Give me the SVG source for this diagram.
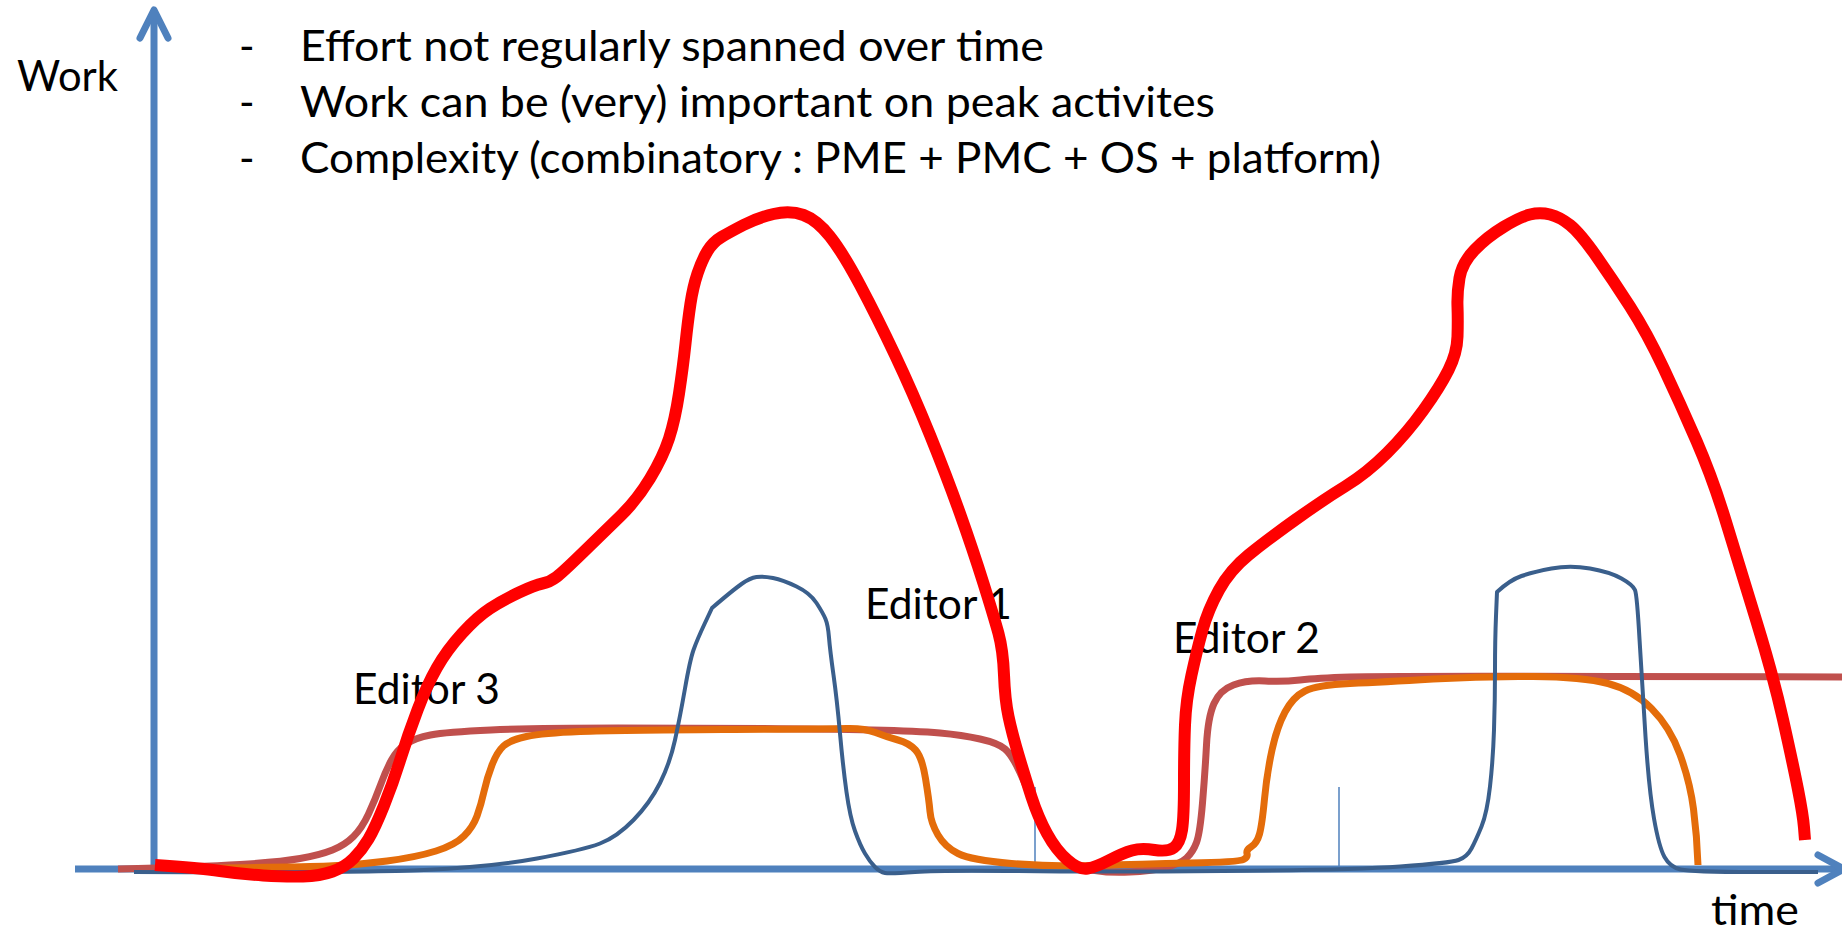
<svg xmlns="http://www.w3.org/2000/svg" width="1842" height="932" viewBox="0 0 1842 932">
<style>
.txt{font-family:Lato,"Liberation Sans",sans-serif;font-size:42px;fill:#000}
.axis{stroke:#4F81BD;stroke-width:7;fill:none;stroke-linecap:round;stroke-linejoin:round}
.tick{stroke:#4F81BD;stroke-width:1.5}
.curve{fill:none;stroke-linejoin:round}
</style>
<rect width="1842" height="932" fill="#fff"/>
<g id="axes">
<line class="axis" x1="154" y1="869" x2="154" y2="10" style="stroke-linecap:butt"/>
<polyline class="axis" points="140,38 154,10 168,38"/>
<line class="axis" x1="75" y1="869" x2="1843" y2="869" style="stroke-linecap:butt"/>
<polyline class="axis" points="1818,855 1844,869 1818,883"/>
<line class="tick" x1="1035" y1="787" x2="1035" y2="869"/>
<line class="tick" x1="1339" y1="787" x2="1339" y2="869"/>
</g>
<g id="labels">
<text class="txt" x="17" y="91" textLength="101" lengthAdjust="spacingAndGlyphs">Work</text>
<text class="txt" x="239" y="61">-</text>
<text class="txt" x="239" y="117">-</text>
<text class="txt" x="239" y="173">-</text>
<text class="txt" x="300" y="61" textLength="744" lengthAdjust="spacingAndGlyphs">Effort not regularly spanned over time</text>
<text class="txt" x="300" y="117" textLength="915" lengthAdjust="spacingAndGlyphs">Work can be (very) important on peak activites</text>
<text class="txt" x="300" y="173" textLength="1081" lengthAdjust="spacingAndGlyphs">Complexity (combinatory : PME + PMC + OS + platform)</text>
<text class="txt" x="1711" y="925" textLength="88" lengthAdjust="spacingAndGlyphs">time</text>
</g>
<g id="editor3"><text class="txt" x="353" y="704" textLength="147" lengthAdjust="spacingAndGlyphs">Editor 3</text></g>
<g id="editor1"><text class="txt" x="865" y="619" textLength="147" lengthAdjust="spacingAndGlyphs">Editor 1</text></g>
<g id="editor2"><text class="txt" x="1173" y="653" textLength="147" lengthAdjust="spacingAndGlyphs">Editor 2</text></g>
<g id="curves">
<path id="brown" class="curve" stroke="#C0504D" stroke-width="7" d="M118,869 Q200,867 240,864.5 Q280,862 300,858.5 Q320,855 332.5,850 Q345,845 353.5,836.5 Q362,828 368.5,814 Q375,800 380.5,785 Q386,770 391.5,760 Q397,750 406,744 Q415,738 430.5,735 Q446,732 491,730 Q536,728 618,728 Q700,728 763.5,728.5 Q827,729 872.5,730 Q918,731 940,733 Q962,735 980,739 Q998,743 1005,749 Q1012,755 1020,772.5 Q1028,790 1035,807.5 Q1042,825 1050,838.5 Q1058,852 1069,860 Q1080,868 1095,870.5 Q1110,873 1130,872 Q1150,871 1165,867.5 Q1180,864 1186.5,858 Q1193,852 1196.5,842.5 Q1200,833 1202.5,803 Q1205,773 1206.5,745 Q1208,717 1214,703.5 Q1220,690 1233.5,685 Q1247,680 1265,681 Q1283,682 1300,680 Q1317,678 1350,677 Q1383,676 1612.5,676.5 L1842,677"/>
<path id="orange" class="curve" stroke="#E46C0A" stroke-width="7" d="M160,869 Q300,867 328.5,866 Q357,865 387,861 Q417,857 436,851 Q455,845 464,836 Q473,827 477,816 Q481,805 484,791.5 Q487,778 492,765 Q497,752 503.5,746 Q510,740 526.5,736.5 Q543,733 580,731.5 Q617,730 723,729.5 Q829,729 846.5,728.5 Q864,728 875.5,732.5 Q887,737 898,740 Q909,743 915.5,750 Q922,757 925.5,778.5 Q929,800 930,811.5 Q931,823 938,835 Q945,847 958,853.5 Q971,860 1011.5,863.5 Q1052,867 1096.5,865.5 Q1141,864 1190,863 Q1239,862 1243.5,859.5 Q1248,857 1247,853.5 Q1246,850 1251.5,846.5 Q1257,843 1259.5,834 Q1262,825 1264.5,799 Q1267,773 1272,750 Q1277,727 1285,712 Q1293,697 1305,691 Q1317,685 1350,683.5 Q1383,682 1433,679 Q1483,676 1533,676.5 Q1583,677 1608,683.5 Q1633,690 1651.5,708.5 Q1670,727 1680,754.5 Q1690,782 1693.5,809 Q1697,836 1698,865"/>
<path id="blue" class="curve" stroke="#3A5F8C" stroke-width="4" d="M134,872 Q357,873 424,870 Q491,867 537,858.5 Q583,850 600,843.5 Q617,837 633.5,820 Q650,803 660,783 Q670,763 675,740 Q680,717 685,688.5 Q690,660 693.5,650 Q697,640 704.5,624 L712,608 Q733,590 741.5,584 Q750,578 756.5,577 Q763,576 773,578 Q783,580 796.5,586.5 Q810,593 816.5,603 Q823,613 825.5,619 Q828,625 829,637.5 Q830,650 833.5,675 Q837,700 840,733.5 Q843,767 846.5,792 Q850,817 855,831 Q860,845 865,853.5 Q870,862 875,867 Q880,872 885,873 Q890,874 915,872 Q940,870 1018,871 Q1096,872 1223,871 Q1350,870 1400,866.5 Q1450,863 1458.5,860 Q1467,857 1471.5,848.5 Q1476,840 1481.5,826.5 Q1487,813 1490,786.5 Q1493,760 1494,730 Q1495,700 1495,670 Q1495,640 1496,616 L1497,592 Q1510,580 1521.5,576 Q1533,572 1551.5,568.5 Q1570,565 1590,568.5 Q1610,572 1621.5,578.5 Q1633,585 1635,590 Q1637,595 1639.5,639 Q1642,683 1645.5,736.5 Q1649,790 1654,818.5 Q1659,847 1664.5,857 Q1670,867 1680.5,869.5 Q1691,872 1754.5,872 L1818,872"/>
<path id="red" class="curve" stroke="#FF0000" stroke-width="12" d="M155,865 Q200,868 220,871 Q240,874 263,875.5 Q286,877 303,876.5 Q320,876 332.5,871.5 Q345,867 353.5,858.5 Q362,850 368.5,839 Q375,828 384,805.5 Q393,783 400.5,759 Q408,735 417.5,710 Q427,685 437,667.5 Q447,650 462,633.5 Q477,617 490,608.5 Q503,600 519,592.5 Q535,585 542.5,583.5 Q550,582 556.5,577 Q563,572 583,552.5 Q603,533 620,516.5 Q637,500 650,478.5 Q663,457 669,438.5 Q675,420 679,393.5 Q683,367 685.5,343.5 Q688,320 690.5,303.5 Q693,287 697.5,273.5 Q702,260 707.5,251 Q713,242 721.5,237 Q730,232 743.5,225 Q757,218 773.5,214 Q790,210 803.5,215 Q817,220 830,236.5 Q843,253 860,285 Q877,317 895,355 Q913,393 930,435 Q947,477 960,513.5 Q973,550 983.5,583.5 Q994,617 998.5,633.5 Q1003,650 1004,675 Q1005,700 1008.5,716.5 Q1012,733 1018.5,755 Q1025,777 1031.5,797 Q1038,817 1047,833.5 Q1056,850 1067.5,860 Q1079,870 1087.5,868.5 Q1096,867 1109.5,860 Q1123,853 1132,850.5 Q1141,848 1154.5,850 Q1168,852 1174,847.5 Q1180,843 1182,830 Q1184,817 1184,783.5 Q1184,750 1185,725 Q1186,700 1191.5,675 Q1197,650 1202.5,630 Q1208,610 1219,590 Q1230,570 1248.5,555 Q1267,540 1295,520 Q1323,500 1345,486.5 Q1367,473 1387,453 Q1407,433 1423.5,410 Q1440,387 1448.5,370 Q1457,353 1457.5,336.5 Q1458,320 1457.5,306.5 Q1457,293 1459.5,278 Q1462,263 1474.5,250 Q1487,237 1503.5,227 Q1520,217 1530,214.5 Q1540,212 1550,214.5 Q1560,217 1570,225 Q1580,233 1596.5,256.5 Q1613,280 1630,306.5 Q1647,333 1663.5,368 Q1680,403 1696.5,441 Q1713,479 1726.5,523.5 Q1740,568 1756.5,621.5 Q1773,675 1783,719.5 Q1793,764 1798,789.5 Q1803,815 1804,827.5 L1805,840"/>
</g>
</svg>
